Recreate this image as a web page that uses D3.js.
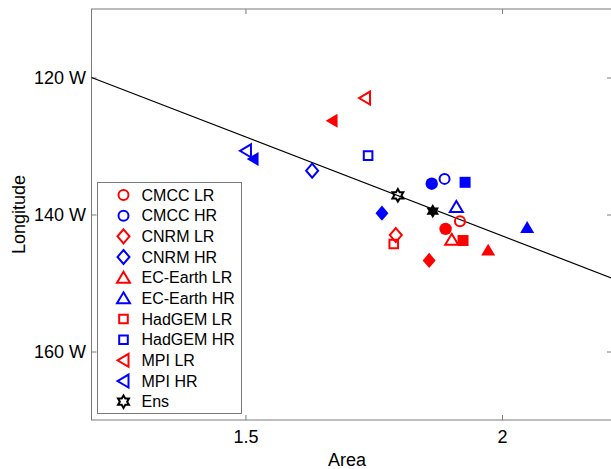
<!DOCTYPE html>
<html>
<head>
<meta charset="utf-8">
<script src="https://cdn.jsdelivr.net/npm/d3@7"></script>
<style>
  body { margin: 0; background: #fff; }
  svg { display: block; font-family: "Liberation Sans", Arial, Helvetica, sans-serif; }
</style>
</head>
<body>
<div id="chart"></div>
<script>
// Données
const models = ["CMCC LR", "CMCC HR", "CNRM LR", "CNRM HR", "EC-Earth LR", "EC-Earth HR",
                "HadGEM LR", "HadGEM HR", "MPI LR", "MPI HR", "Ens"];
// marqueurs vides
const areaOpen = [1.918, 1.888, 1.793, 1.630, 1.902, 1.911, 1.789, 1.739, 1.733, 1.501, 1.797];
const lonOpen  = [141.0, 134.8, 143.0, 133.6, 143.7, 138.9, 144.3, 131.4, 123.0, 130.7, 137.2];
// marqueurs pleins
const areaFilled = [1.890, 1.863, 1.858, 1.766, 1.973, 2.049, 1.924, 1.928, 1.669, 1.515, 1.865];
const lonFilled  = [142.1, 135.5, 146.7, 139.8, 145.2, 141.9, 143.8, 135.3, 126.3, 131.9, 139.5];
// droite de régression
const fitArea = [1.2, 2.2143];
const fitLon  = [120.0, 149.3];
const xTicks = [1.5, 2];
const yTicks = [120, 140, 160];

const margin = { top: 9, right: 0, bottom: 49, left: 91.5 },
      width = 520.5,
      height = 411;

const svg = d3.select("#chart").append("svg")
    .attr("width", 611)
    .attr("height", 469)
    .append("g")
    .attr("transform", `translate(${margin.left},${margin.top})`);

const x = d3.scaleLinear().domain([1.2, 2.2143]).range([0, width]);
const y = d3.scaleLinear().domain([110, 170]).range([0, height]);

const axisColor = "#7a7a7a";

// Cadre
svg.append("rect")
    .attr("x", 0).attr("y", 0)
    .attr("width", width).attr("height", height)
    .attr("fill", "none")
    .attr("stroke", axisColor)
    .attr("stroke-width", 1);

// Axes (ticks vers l'intérieur, style matlab)
const xAxis = svg.append("g")
    .attr("transform", `translate(0,${height})`)
    .call(d3.axisBottom(x).tickValues(xTicks).tickSize(-5).tickPadding(10).tickFormat(d => d));
svg.append("g")
    .call(d3.axisTop(x).tickValues(xTicks).tickSize(-5).tickFormat(""));
const yAxis = svg.append("g")
    .call(d3.axisLeft(y).tickValues(yTicks).tickSize(-5).tickPadding(5.5).tickFormat(d => d + " W"));
svg.append("g")
    .attr("transform", `translate(${width},0)`)
    .call(d3.axisRight(y).tickValues(yTicks).tickSize(-5).tickFormat(""));

svg.selectAll(".domain").remove();
svg.selectAll(".tick line").attr("stroke", axisColor);
svg.selectAll(".tick text")
    .attr("fill", "#000")
    .style("font-size", "18px")
    .style("font-family", "'Liberation Sans', Arial, Helvetica, sans-serif");

// Titres des axes
svg.append("text")
    .attr("x", 347 - margin.left)
    .attr("y", 466 - margin.top)
    .attr("text-anchor", "middle")
    .style("font-size", "18px")
    .text("Area");

svg.append("text")
    .attr("transform", `translate(${19 - margin.left},${height / 2}) rotate(-90)`)
    .attr("text-anchor", "middle")
    .attr("dy", "0.35em")
    .style("font-size", "18px")
    .text("Longitude");

// Droite de régression
svg.append("line")
    .attr("x1", x(fitArea[0])).attr("y1", y(fitLon[0]))
    .attr("x2", x(fitArea[1])).attr("y2", y(fitLon[1]))
    .attr("stroke", "#000")
    .attr("stroke-width", 1.2);

// Formes des marqueurs
function markerPath(shape, filled) {
  const k = filled ? 1.08 : 1;
  switch (shape) {
    case "circle":
      return d3.symbol(d3.symbolCircle, Math.PI * Math.pow(filled ? 6.2 : 5, 2))();
    case "diamond":
      return `M0,${-7 * k}L${6 * k},0L0,${7 * k}L${-6 * k},0Z`;
    case "triangle":
      return `M0,${-6 * k}L${6.5 * k},${5 * k}L${-6.5 * k},${5 * k}Z`;
    case "square": {
      const h = filled ? 5.5 : 4.3;
      return `M${-h},${-h}H${h}V${h}H${-h}Z`;
    }
    case "left":
      return `M${-6 * k},0L${5 * k},${-6.5 * k}L${5 * k},${6.5 * k}Z`;
    case "hexagram": {
      const R = filled ? 7.2 : 6.3, r = R / Math.sqrt(3);
      let p = [];
      for (let i = 0; i < 12; i++) {
        const a = -Math.PI / 2 + i * Math.PI / 6;
        const rr = i % 2 === 0 ? R : r;
        p.push([rr * Math.cos(a), rr * Math.sin(a)]);
      }
      return "M" + p.map(q => q.join(",")).join("L") + "Z";
    }
  }
}

const shapeOf = name => {
  if (name.startsWith("CMCC")) return "circle";
  if (name.startsWith("CNRM")) return "diamond";
  if (name.startsWith("EC-Earth")) return "triangle";
  if (name.startsWith("HadGEM")) return "square";
  if (name.startsWith("MPI")) return "left";
  return "hexagram";
};
const colorOf = name => name.endsWith("LR") ? "#ff0000" : name.endsWith("HR") ? "#0000ff" : "#000";

// Points pleins
svg.append("g")
    .selectAll("path")
    .data(models)
    .enter().append("path")
    .attr("transform", (d, i) => `translate(${x(areaFilled[i])},${y(lonFilled[i])})`)
    .attr("d", d => markerPath(shapeOf(d), true))
    .attr("fill", d => colorOf(d))
    .attr("stroke", "none");

// Points vides
svg.append("g")
    .selectAll("path")
    .data(models)
    .enter().append("path")
    .attr("transform", (d, i) => `translate(${x(areaOpen[i])},${y(lonOpen[i])})`)
    .attr("d", d => markerPath(shapeOf(d), false))
    .attr("fill", "none")
    .attr("stroke", d => colorOf(d))
    .attr("stroke-width", 2);

// Légende
const legendX = 97.5 - margin.left, legendY = 182.5 - margin.top;
svg.append("rect")
    .attr("x", legendX).attr("y", legendY)
    .attr("width", 144).attr("height", 231)
    .attr("fill", "#fff")
    .attr("stroke", axisColor)
    .attr("stroke-width", 1);

const legend = svg.selectAll(".legend")
    .data(models)
    .enter().append("g")
    .attr("class", "legend")
    .attr("transform", (d, i) => `translate(${legendX},${legendY + 12.5 + i * 20.67})`);

legend.append("path")
    .attr("transform", "translate(26,0)")
    .attr("d", d => markerPath(shapeOf(d), false))
    .attr("fill", "none")
    .attr("stroke", d => colorOf(d))
    .attr("stroke-width", 2);

legend.append("text")
    .attr("x", 44)
    .attr("dy", "0.35em")
    .style("font-size", "16px")
    .text(d => d);
</script>
</body>
</html>
